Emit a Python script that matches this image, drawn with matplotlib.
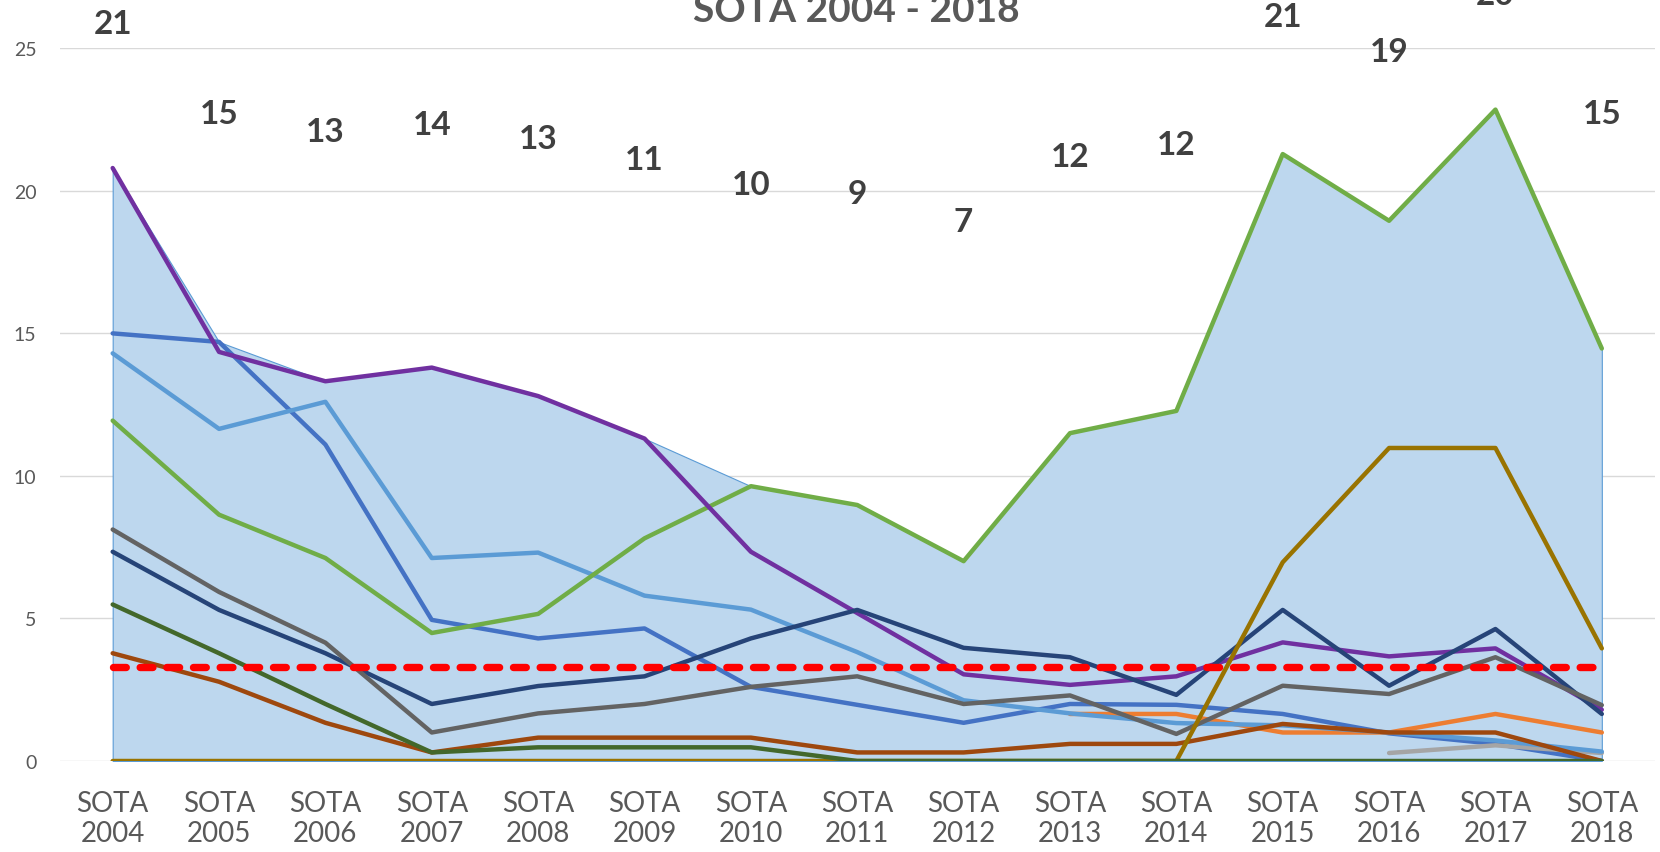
import numpy as np
import matplotlib
matplotlib.use("Agg")
import matplotlib.pyplot as plt

plt.rcParams['font.family'] = ['Lato', 'DejaVu Sans']

# ---------------- data ----------------
categories = ["SOTA\n2004", "SOTA\n2005", "SOTA\n2006", "SOTA\n2007", "SOTA\n2008",
              "SOTA\n2009", "SOTA\n2010", "SOTA\n2011", "SOTA\n2012", "SOTA\n2013",
              "SOTA\n2014", "SOTA\n2015", "SOTA\n2016", "SOTA\n2017", "SOTA\n2018"]
nan = np.nan
s_blue      = [15.0, 14.7, 11.1, 4.95, 4.3, 4.65, 2.6, 1.97, 1.34, 2.0, 1.97, 1.65, 0.97, 0.6, 0.0]
s_orange    = [nan, nan, nan, nan, nan, nan, nan, nan, nan, 1.65, 1.65, 1.0, 1.0, 1.65, 1.0]
s_lightgray = [nan, nan, nan, nan, nan, nan, nan, nan, nan, nan, nan, nan, 0.28, 0.55, 0.28]
s_lightblue = [14.3, 11.65, 12.6, 7.12, 7.31, 5.8, 5.31, 3.82, 2.13, 1.67, 1.33, 1.25, 1.0, 0.72, 0.33]
s_green     = [11.94, 8.64, 7.12, 4.49, 5.16, 7.81, 9.64, 8.98, 7.01, 11.5, 12.28, 21.29, 18.95, 22.85, 14.47]
s_purple    = [20.8, 14.35, 13.32, 13.8, 12.8, 11.31, 7.34, 5.19, 3.04, 2.67, 2.97, 4.16, 3.67, 3.95, 1.8]
s_navy      = [7.34, 5.3, 3.78, 2.0, 2.63, 2.97, 4.3, 5.3, 3.97, 3.64, 2.32, 5.3, 2.64, 4.63, 1.65]
s_brown     = [3.78, 2.78, 1.34, 0.3, 0.82, 0.82, 0.82, 0.3, 0.3, 0.6, 0.6, 1.3, 1.0, 1.0, 0.0]
s_darkgray  = [8.12, 5.93, 4.15, 1.0, 1.67, 2.0, 2.6, 2.97, 2.0, 2.3, 0.95, 2.64, 2.35, 3.64, 1.96]
s_gold      = [0, 0, 0, 0, 0, 0, 0, 0, 0, 0, 0, 6.97, 10.98, 10.98, 3.95]
s_darkgreen = [5.49, 3.78, 2.0, 0.3, 0.48, 0.48, 0.48, 0, 0, 0, 0, 0, 0, 0, 0]
threshold = 3.3

label_values = ["21", "15", "13", "14", "13", "11", "10", "9", "7", "12", "12", "21", "19", "20", "15"]
label_y      = [25.88, 22.73, 22.09, 22.32, 21.85, 21.09, 20.22, 19.90, 18.93, 21.21, 21.62, 26.12, 24.89, 26.89, 22.72]
title = "SOTA 2004 - 2018"
yticks = [0, 5, 10, 15, 20, 25]

# ---------------- figure ----------------
fig = plt.figure(figsize=(16.6, 8.53), dpi=100)
ax = fig.add_axes([59.5 / 1660, 1 - 762 / 853, (1655 - 59.5) / 1660, (762 - 49.3) / 853])

x = np.arange(len(categories))
series_all = np.array([s_blue, s_orange, s_lightgray, s_lightblue, s_green, s_purple,
                       s_navy, s_brown, s_darkgray, s_gold, s_darkgreen], dtype=float)
area_top = np.nanmax(series_all, axis=0)
ax.fill_between(x, 0, area_top, facecolor="#BDD7EE", edgecolor="#5B9BD5", linewidth=0.8, zorder=1)

lw = 3.2
order = [
    (s_blue, "#4472C4"),
    (s_orange, "#ED7D31"),
    (s_lightgray, "#A5A5A5"),
    (s_lightblue, "#5B9BD5"),
    (s_green, "#70AD47"),
    (s_purple, "#7030A0"),
    (s_navy, "#264478"),
    (s_brown, "#9E480E"),
    (s_darkgray, "#636363"),
    (s_gold, "#997300"),
    (s_darkgreen, "#43682B"),
]
for i, (s, c) in enumerate(order):
    ax.plot(x, np.array(s, dtype=float), color=c, lw=lw, solid_joinstyle="round",
            solid_capstyle="round", zorder=3 + i)

rl = 5.3
ax.plot(x, [threshold] * len(x), color="#FF0000", lw=rl,
        linestyle=(0, (9.2 / rl, 10.0 / rl)), dash_capstyle="round", zorder=20)

for xi, v, yv in zip(x, label_values, label_y):
    ax.text(xi, yv, v, ha="center", va="center", fontsize=24, fontweight="bold",
            color="#404040", clip_on=False, zorder=30)

ax.set_xlim(-0.5, len(x) - 0.5)
ax.set_ylim(0, 25)
ax.set_yticks(yticks)
ax.set_xticks(x)
ax.set_xticklabels(categories, fontsize=20, color="#595959", linespacing=1.2)
ax.tick_params(axis="x", length=0, pad=21)
ax.tick_params(axis="y", length=0, pad=16.5, labelsize=14, labelcolor="#595959")
ax.grid(axis="y", color="#D9D9D9", lw=1.0, zorder=0)
ax.set_axisbelow(True)
for sp in ax.spines.values():
    sp.set_visible(False)

fig.text(856 / 1660, 1 - 21.7 / 853, title, ha="center", va="baseline",
         fontsize=28, fontweight="bold", color="#595959")

fig.savefig("out.png", dpi=100)
